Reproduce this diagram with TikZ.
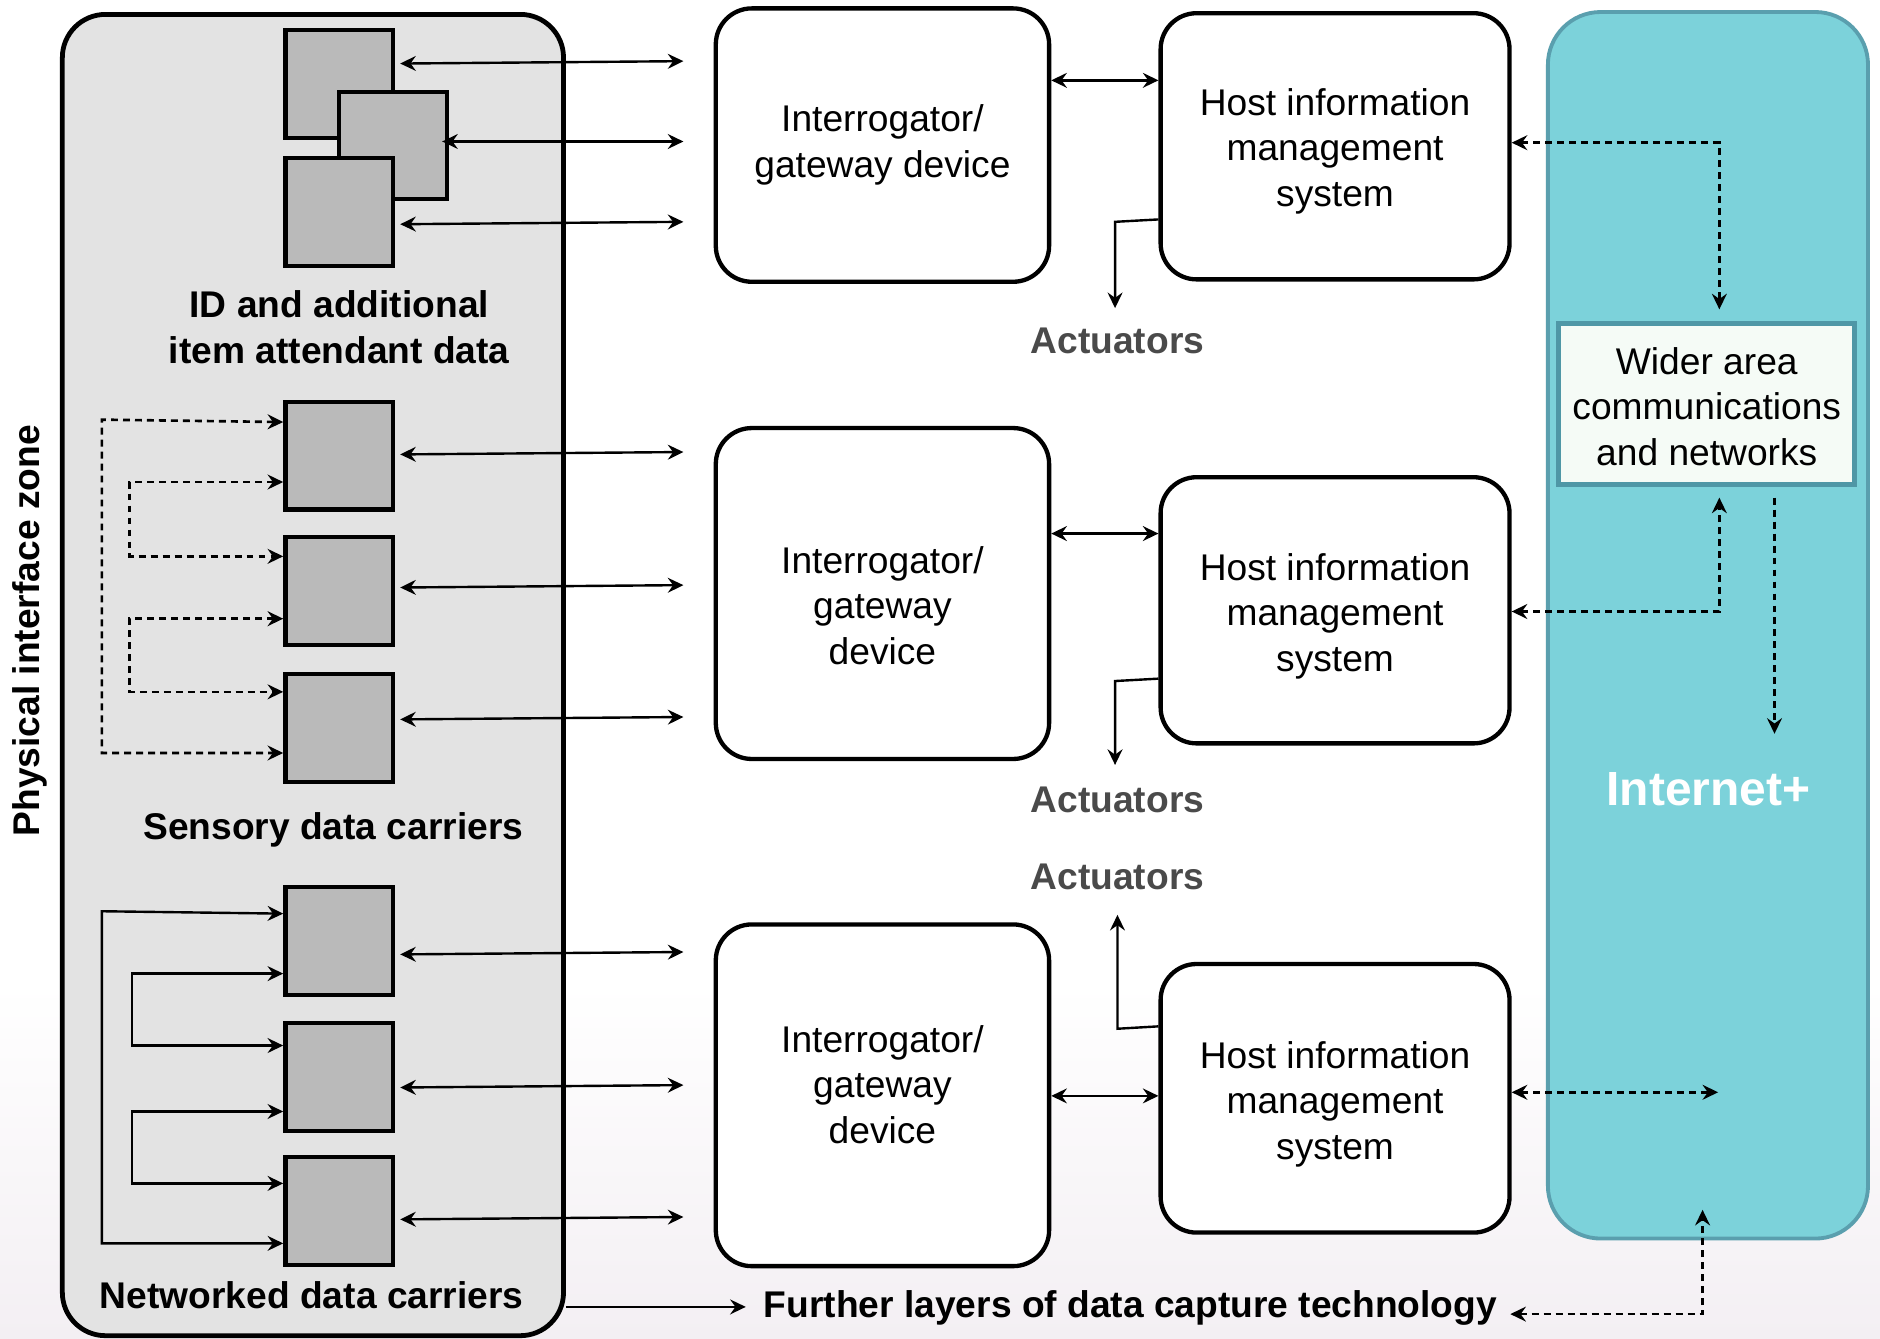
\documentclass[tikz,border=0pt]{standalone}
\usepackage{fontspec}
\setmainfont{Liberation Sans}
\usetikzlibrary{arrows.meta,calc}
\definecolor{panelgray}{HTML}{E3E3E3}
\definecolor{sqgray}{HTML}{BABABA}
\definecolor{netfill}{HTML}{7CD2DA}
\definecolor{netedge}{HTML}{5A9FAE}
\definecolor{widedge}{HTML}{4F97A6}
\definecolor{widefill}{HTML}{F5FBF6}
\definecolor{actgray}{HTML}{4A4A4A}
\definecolor{bgbottom}{HTML}{F3EFF3}
\newcommand\dgfont{\fontsize{15.5}{19}\selectfont}
\tikzset{
  >={Stealth[length=6.5pt,width=6.2pt,inset=2.2pt]},
  conn/.style={line width=1pt},
  dashconn/.style={line width=1.1pt, dash pattern=on 2.9pt off 2.1pt},
  carrier/.style={draw, line width=1.8pt, fill=sqgray, minimum width=45pt, minimum height=45pt, inner sep=0pt},
  devbox/.style={draw, line width=1.8pt, fill=white, rounded corners=15pt},
  boxtext/.style={align=center, font=\dgfont},
  boldlbl/.style={font=\dgfont\bfseries, align=center},
  actlbl/.style={font=\dgfont\bfseries, text=actgray},
}
\begin{document}
\begin{tikzpicture}[x=0.5pt,y=-0.5pt]
\useasboundingbox (0,0) rectangle (1568,1116);
\fill[white] (0,0) rectangle (1568,1116);
\shade[top color=white,bottom color=bgbottom] (0,820) rectangle (1568,1116);

% ---------- left panel ----------
\node[draw, line width=2pt, fill=panelgray, rounded corners=18pt, minimum width=209pt, minimum height=551pt] (piz) at (261,563) {};
\node[boldlbl, rotate=90] (pizlbl) at (25,526) {Physical interface zone};

% ID carriers
\node[carrier] (A) at (283,70) {};
\node[carrier, minimum height=44.5pt] (B) at (328,121.5) {};
\node[carrier] (C) at (283,177) {};
\node[boldlbl] (idlbl) at (283,273) {ID and additional\\item attendant data};

% sensory carriers
\node[carrier] (S1) at (283,380) {};
\node[carrier] (S2) at (283,493) {};
\node[carrier] (S3) at (283,607) {};
\node[boldlbl] (senlbl) at (278,692) {Sensory data carriers};

% networked carriers
\node[carrier] (N1) at (283,785) {};
\node[carrier] (N2) at (283,898) {};
\node[carrier] (N3) at (283,1010) {};
\node[boldlbl] (netlbl) at (260,1080) {Networked data carriers};

% free ends of carrier links
\coordinate (r1) at (570,51);
\coordinate (r2) at (570,118);
\coordinate (r3) at (570,185);
\coordinate (r4) at (570,377);
\coordinate (r5) at (570,488);
\coordinate (r6) at (570,598);
\coordinate (r7) at (570,794);
\coordinate (r8) at (570,905);
\coordinate (r9) at (570,1015);

\draw[conn,<->] ([xshift=2pt]A.east |- 0,53) -- (r1);
\draw[conn,<->] ([xshift=-3pt]B.east |- 0,118) -- (r2);
\draw[conn,<->] ([xshift=2pt]C.east |- 0,187) -- (r3);
\draw[conn,<->] ([xshift=2pt]S1.east |- 0,379) -- (r4);
\draw[conn,<->] ([xshift=2pt]S2.east |- 0,490) -- (r5);
\draw[conn,<->] ([xshift=2pt]S3.east |- 0,600) -- (r6);
\draw[conn,<->] ([xshift=2pt]N1.east |- 0,796) -- (r7);
\draw[conn,<->] ([xshift=2pt]N2.east |- 0,907) -- (r8);
\draw[conn,<->] ([xshift=2pt]N3.east |- 0,1017) -- (r9);

% sensory dashed links
\draw[dashconn,<->] (S1.west |- 0,352) -- (85,350) -- (85,628) -- (S3.west |- 0,628);
\draw[dashconn,<->] (S1.west |- 0,402) -- (108,402) -- (108,464) -- (S2.west |- 0,464);
\draw[dashconn,<->] (S2.west |- 0,516) -- (108,516) -- (108,577) -- (S3.west |- 0,577);

% networked solid links
\draw[conn,<->] (N1.west |- 0,762) -- (85,760) -- (85,1037) -- (N3.west |- 0,1037);
\draw[conn,<->] (N1.west |- 0,812) -- (110,812) -- (110,872) -- (N2.west |- 0,872);
\draw[conn,<->] (N2.west |- 0,927) -- (110,927) -- (110,987) -- (N3.west |- 0,987);

% ---------- interrogators ----------
\node[devbox, minimum width=139pt, minimum height=114pt,
      label={[boxtext]center:{Interrogator/\\gateway device}}] (I1) at (736,121) {};
\node[devbox, minimum width=139pt, minimum height=138pt,
      label={[boxtext, yshift=-5pt]center:{Interrogator/\\gateway\\device}}] (I2) at (736,495) {};
\node[devbox, minimum width=139pt, minimum height=142.5pt,
      label={[boxtext, yshift=4.5pt]center:{Interrogator/\\gateway\\device}}] (I3) at (736,913.5) {};

% ---------- hosts ----------
\node[devbox, minimum width=145.5pt, minimum height=111pt,
      label={[boxtext, yshift=-2pt]center:{Host information\\management\\system}}] (H1) at (1113.5,122) {};
\node[devbox, minimum width=145.5pt, minimum height=111pt,
      label={[boxtext, yshift=-2.5pt]center:{Host information\\management\\system}}] (H2) at (1113.5,509) {};
\node[devbox, minimum width=145.5pt, minimum height=112pt,
      label={[boxtext, yshift=-2.5pt]center:{Host information\\management\\system}}] (H3) at (1113.5,916) {};

\draw[conn,<->] (I1.east |- 0,67) -- (H1.west |- 0,67);
\draw[conn,<->] (I2.east |- 0,445) -- (H2.west |- 0,445);
\draw[conn,<->] (I3.east |- 0,914) -- (H3.west |- 0,914);

% ---------- actuators ----------
\node[actlbl] (act1) at (932,284) {Actuators};
\node[actlbl] (act2) at (932,667) {Actuators};
\node[actlbl] (act3) at (932,731) {Actuators};
\coordinate (t1) at (930,257);
\coordinate (t2) at (930,638);
\coordinate (t3) at (932,763);
\draw[conn,->] (H1.west |- 0,183) -- (930,185) -- (t1);
\draw[conn,->] (H2.west |- 0,566) -- (930,568) -- (t2);
\draw[conn,->] (H3.west |- 0,856) -- (932,858) -- (t3);

% ---------- internet panel ----------
\node[draw=netedge, line width=1.6pt, fill=netfill, rounded corners=22pt, minimum width=133.5pt, minimum height=511.5pt] (net) at (1424.5,521.5) {};
\node[font=\fontsize{20}{24}\selectfont\bfseries, text=white] (inet) at (1425,658) {Internet+};
\node[draw=widedge, line width=2pt, fill=widefill, minimum width=123.5pt, minimum height=67pt,
      label={[boxtext, yshift=-1pt]center:{Wider area\\communications\\and networks}}] (wide) at (1423.5,337) {};

\coordinate (w1) at (1434,258);
\coordinate (w2) at (1434,415);
\coordinate (w3) at (1480,415);
\coordinate (w4) at (1480,612);
\coordinate (w5) at (1433,911);
\coordinate (w6) at (1420,1009);

\draw[dashconn,<->] (H1.east |- 0,119) -- (1434,119) -- (w1);
\draw[dashconn,<->] (H2.east |- 0,510) -- (1434,510) -- (w2);
\draw[dashconn,->] (w3) -- (w4);
\draw[dashconn,<->] (H3.east |- 0,911) -- (w5);

% ---------- further layers ----------
\node[boldlbl, anchor=west] (further) at (630,1091) {Further layers of data capture technology};
\draw[conn,->,shorten >=4pt] (piz.east |- 0,1090) -- (further.west |- 0,1090);
\draw[dashconn,<->] ([xshift=2pt]further.east |- 0,1096) -- (1420,1096) -- (w6);
\end{tikzpicture}
\end{document}
